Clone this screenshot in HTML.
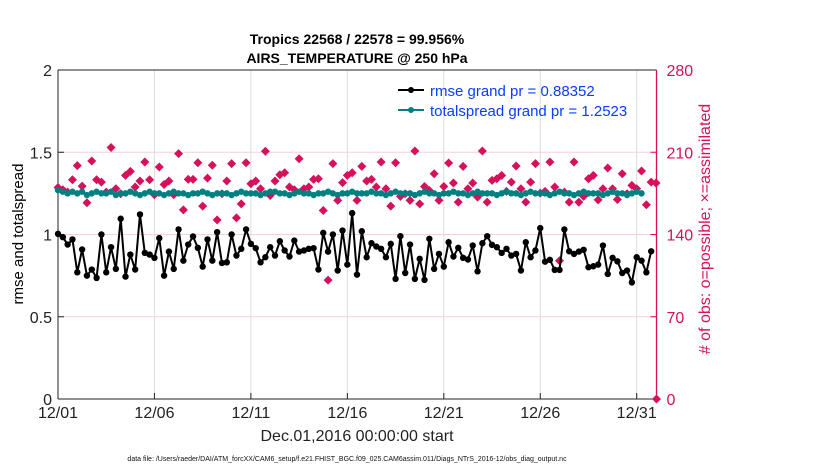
<!DOCTYPE html>
<html><head><meta charset="utf-8"><style>
body{margin:0;background:#fff;width:830px;height:470px;overflow:hidden}
svg text{font-family:"Liberation Sans",Arial,sans-serif}
</style></head><body>
<svg id="chart" width="830" height="470" xmlns="http://www.w3.org/2000/svg">
<g id="grid"></g>
<g id="axes"></g>
<g id="marks"></g>
<text x="357" y="44" text-anchor="middle" font-size="14" font-weight="bold">Tropics 22568 / 22578 = 99.956%</text>
<text x="357" y="63" text-anchor="middle" font-size="14" font-weight="bold">AIRS_TEMPERATURE @ 250 hPa</text>
<text transform="translate(23,234) rotate(-90)" text-anchor="middle" font-size="15">rmse and totalspread</text>
<text transform="translate(710,229) rotate(-90)" text-anchor="middle" font-size="16" fill="#d6105a"># of obs: o=possible; ×=assimilated</text>
<text x="357" y="441" text-anchor="middle" font-size="16" fill="#222">Dec.01,2016 00:00:00 start</text>
<text x="347" y="461" text-anchor="middle" font-size="7" fill="#111">data file: /Users/raeder/DAI/ATM_forcXX/CAM6_setup/f.e21.FHIST_BGC.f09_025.CAM6assim.011/Diags_NTrS_2016-12/obs_diag_output.nc</text>
<g>
<line x1="398" y1="90" x2="424" y2="90" stroke="#000" stroke-width="2"/><circle cx="411" cy="90" r="3" fill="#000"/>
<text x="430" y="96" font-size="15" fill="#0a3cff">rmse grand pr = 0.88352</text>
<line x1="398" y1="110" x2="424" y2="110" stroke="#008080" stroke-width="2"/><circle cx="411" cy="110" r="3" fill="#008080"/>
<text x="430" y="116" font-size="15" fill="#0a3cff">totalspread grand pr = 1.2523</text>
</g>
</svg>
<script>
const rmse=[1.004,0.984,0.939,0.970,0.770,0.909,0.750,0.787,0.736,1.00,0.77,0.923,0.791,1.096,0.744,0.878,0.787,1.122,0.888,0.878,0.858,0.978,0.750,0.896,0.791,1.031,0.841,0.939,0.988,0.919,0.805,0.970,0.841,1.014,0.827,0.831,1.000,0.872,0.913,1.031,0.943,0.917,0.831,0.862,0.923,0.872,0.959,0.903,0.866,0.963,0.896,0.903,0.913,0.917,0.787,1.010,0.896,1.000,0.781,1.024,0.817,1.130,0.756,
1.020,0.862,0.947,0.927,0.913,0.862,0.943,0.730,0.990,0.766,0.939,0.730,0.852,0.724,0.974,0.791,0.882,0.805,0.953,0.866,0.919,0.858,0.848,0.933,0.776,0.947,0.990,0.937,0.923,0.888,0.913,0.872,0.882,0.781,0.953,0.862,0.903,1.039,0.835,0.846,0.785,0.785,1.031,0.898,0.882,0.896,0.907,0.801,0.807,0.817,0.933,0.760,0.858,0.837,0.766,0.781,0.709,0.862,0.841,0.770,0.898];
const spread=[1.27,1.26,1.25,1.26,1.25,1.26,1.24,1.25,1.26,1.25,1.25,1.26,1.24,1.25,1.25,1.26,1.25,1.24,1.25,1.26,1.25,1.25,1.24,1.25,1.26,1.25,1.25,1.24,1.25,1.25,1.26,1.25,1.24,1.25,1.25,1.25,1.24,1.25,1.26,1.25,1.25,1.25,1.24,1.25,1.26,1.26,1.25,1.25,1.24,1.25,1.26,1.25,1.25,1.24,1.25,1.25,1.26,1.25,1.24,1.25,1.25,1.26,1.25,
1.25,1.25,1.26,1.25,1.25,1.24,1.25,1.26,1.25,1.25,1.25,1.24,1.25,1.26,1.25,1.25,1.24,1.25,1.25,1.26,1.25,1.25,1.24,1.25,1.26,1.25,1.25,1.25,1.24,1.25,1.26,1.25,1.25,1.24,1.25,1.26,1.25,1.25,1.25,1.24,1.25,1.26,1.25,1.25,1.24,1.25,1.26,1.25,1.25,1.25,1.24,1.25,1.26,1.25,1.25,1.24,1.25,1.26,1.25];
const obsCount=[180,178.1,176.1,186.6,198.6,181.2,167.0,202.6,186.6,184.6,176.1,214.0,178.9,174.7,190.3,193.7,180.4,185.5,201.7,186.6,173.8,197.4,182.6,185.5,173.8,208.8,161.0,186.9,186.9,201.1,164.1,188.0,198.9,152.5,174.7,185.5,200.3,154.2,166.1,201.1,183.2,185.5,178.9,210.8,173.2,185.5,190.9,192.6,180.4,178.1,204.5,178.9,180.4,186.9,187.5,160.4,101.2,200.3,169.0,184.1,190.3,192.6,169.0,
198.0,185.5,186.9,180.4,201.7,178.9,164.1,201.1,172.4,174.7,169.0,211.1,166.1,180.9,177.5,191.7,169.0,180.9,200.9,183.8,167.6,198.0,178.9,183.8,171.8,211.1,167.6,186.1,187.5,190.3,176.7,184.6,198.3,178.9,167.6,184.6,200.3,175.2,176.7,201.7,180.4,117.7,176.1,167.6,201.7,167.6,172.4,187.5,190.3,169.5,178.9,196.6,178.9,169.8,191.7,174.7,181.8,178.9,194.0,165.3,184.6,183.8,0];
const xTicks=["12/01","12/06","12/11","12/16","12/21","12/26","12/31"];
const yTicksL=[0,0.5,1,1.5,2];
const yTicksR=[0,70,140,210,280];
const L=58,R=656.5,T=70,B=399,NS="http://www.w3.org/2000/svg";
const X=d=>L+d*(578.7/30);
const YL=v=>B-v*(B-T)/2;
const YR=v=>B-v*(B-T)/280;
function mk(tag,at,p){const e=document.createElementNS(NS,tag);for(const k in at)e.setAttribute(k,at[k]);p.appendChild(e);return e;}
const grid=document.getElementById('grid'),axes=document.getElementById('axes'),marks=document.getElementById('marks');
xTicks.forEach((t,i)=>{const x=X(i*5);
 const g=mk('line',{x1:x,x2:x,y1:T,y2:B,stroke:'#dcdcdc','stroke-width':1},grid);
 
 
 mk('line',{x1:x,x2:x,y1:B,y2:B-6,stroke:'#222'},axes);
 const tx=mk('text',{x:x,y:B+19,'text-anchor':'middle','font-size':16,fill:'#222'},axes);tx.textContent=t;
 
 });
yTicksR.forEach(v=>{const y=YR(v);
 if(v>0&&v<280){const g=mk('line',{x1:L,x2:R,y1:y,y2:y,stroke:'#f6cfe0','stroke-width':1},grid);
 
 }
 mk('line',{x1:R,x2:R-6,y1:y,y2:y,stroke:'#d6105a'},axes);
 const tx=mk('text',{x:R+10,y:y+6,'font-size':16,fill:'#d6105a'},axes);tx.textContent=v;
 
 });
yTicksL.forEach(v=>{const y=YL(v);
 mk('line',{x1:L,x2:L+6,y1:y,y2:y,stroke:'#222'},axes);
 const tx=mk('text',{x:L-6,y:y+6,'text-anchor':'end','font-size':16,fill:'#222'},axes);tx.textContent=v;
 
 });
mk('line',{x1:L,x2:R,y1:T,y2:T,stroke:'#222'},axes);
mk('line',{x1:L,x2:R,y1:B,y2:B,stroke:'#222'},axes);
mk('line',{x1:L,x2:L,y1:T,y2:B,stroke:'#222'},axes);
mk('line',{x1:R,x2:R,y1:T,y2:B,stroke:'#d6105a','stroke-width':1.3},axes);
obsCount.forEach((c,i)=>{const x=i===obsCount.length-1?R:X(i*0.25),y=YR(c);
 const p=mk('path',{d:`M${x},${y-4.5}L${x+4.5},${y}L${x},${y+4.5}L${x-4.5},${y}Z`,fill:'#d6105a'},marks);
 
 });
function series(arr,col,name){
 const pts=arr.map((v,i)=>X(i*0.25)+','+YL(v)).join(' ');
 const pl=mk('polyline',{points:pts,fill:'none',stroke:col,'stroke-width':2},marks);
 
 
 arr.forEach((v,i)=>{const c=mk('circle',{cx:X(i*0.25),cy:YL(v),r:3.2,fill:col},marks);
  
  });
}
series(spread,'#008080','totalspread');
series(rmse,'#000','rmse');
</script>
</body></html>
